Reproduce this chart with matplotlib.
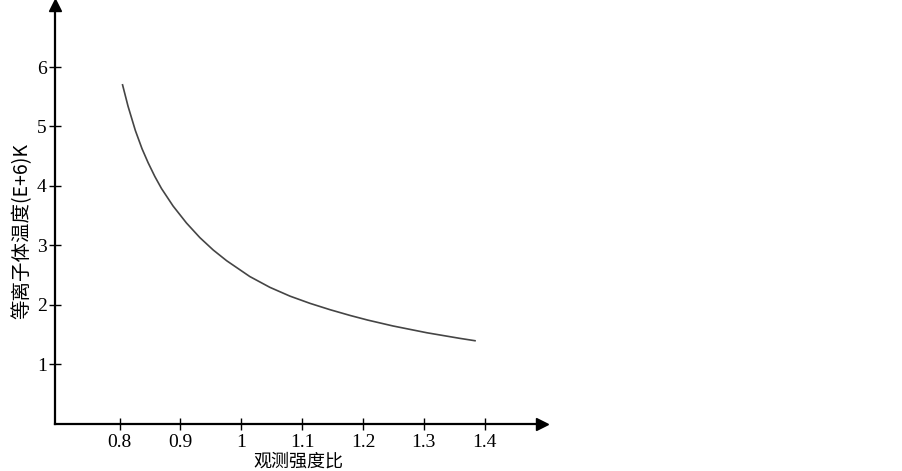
import matplotlib
matplotlib.use('Agg')
import matplotlib.pyplot as plt

# values
ratio = [0.805, 0.814, 0.826, 0.837, 0.847, 0.858, 0.869, 0.888, 0.910, 0.932, 0.954, 0.976,
         1.014, 1.047, 1.080, 1.113, 1.146, 1.179, 1.208, 1.249, 1.305, 1.359, 1.384]
temp = [5.70, 5.34, 4.932, 4.624, 4.389, 4.158, 3.954, 3.66, 3.374, 3.128, 2.919, 2.739,
        2.473, 2.291, 2.143, 2.021, 1.914, 1.817, 1.739, 1.641, 1.526, 1.432, 1.392]

x_ticks = [0.8, 0.9, 1.0, 1.1, 1.2, 1.3, 1.4]
x_tick_labels = ['0.8', '0.9', '1', '1.1', '1.2', '1.3', '1.4']
y_ticks = [1, 2, 3, 4, 5, 6]

x_label = '观测强度比'
y_label = '等离子体温度(E+6)K'

fig = plt.figure(figsize=(9.03, 4.71), dpi=100)
ax = fig.add_axes([0.0609, 0.0998, 0.539, 0.889])

ax.plot(ratio, temp, color='#454545', lw=1.2, solid_joinstyle='round')

ax.set_xlim(0.694, 1.4936)
ax.set_ylim(-0.01, 7.04)

for s in ['top', 'right']:
    ax.spines[s].set_visible(False)
for s in ['left', 'bottom']:
    ax.spines[s].set_linewidth(1.6)
    ax.spines[s].set_color('black')

# arrow heads
ax.plot(1, 0, '>', color='black', ms=8, transform=ax.transAxes, clip_on=False)
ax.plot(0, 1, '^', color='black', ms=8, transform=ax.transAxes, clip_on=False)

ax.set_xticks(x_ticks)
ax.set_xticklabels(x_tick_labels)
ax.set_yticks(y_ticks)
ax.tick_params(direction='inout', length=8, width=1, colors='black')
ax.tick_params(axis='x', pad=3)
ax.tick_params(axis='y', pad=2)
for lab in ax.get_xticklabels() + ax.get_yticklabels():
    lab.set_family('Liberation Serif')
    lab.set_fontsize(14)

cjk = ['Noto Sans CJK SC', 'DejaVu Sans']
ax.set_xlabel(x_label, family=cjk, fontsize=13, va='center')
ax.xaxis.set_label_coords(0.5, -0.089)
ax.set_ylabel(y_label, family=cjk, fontsize=14, va='center')
ax.yaxis.set_label_coords(-0.068, 0.46)

fig.savefig('out.png', dpi=100)
